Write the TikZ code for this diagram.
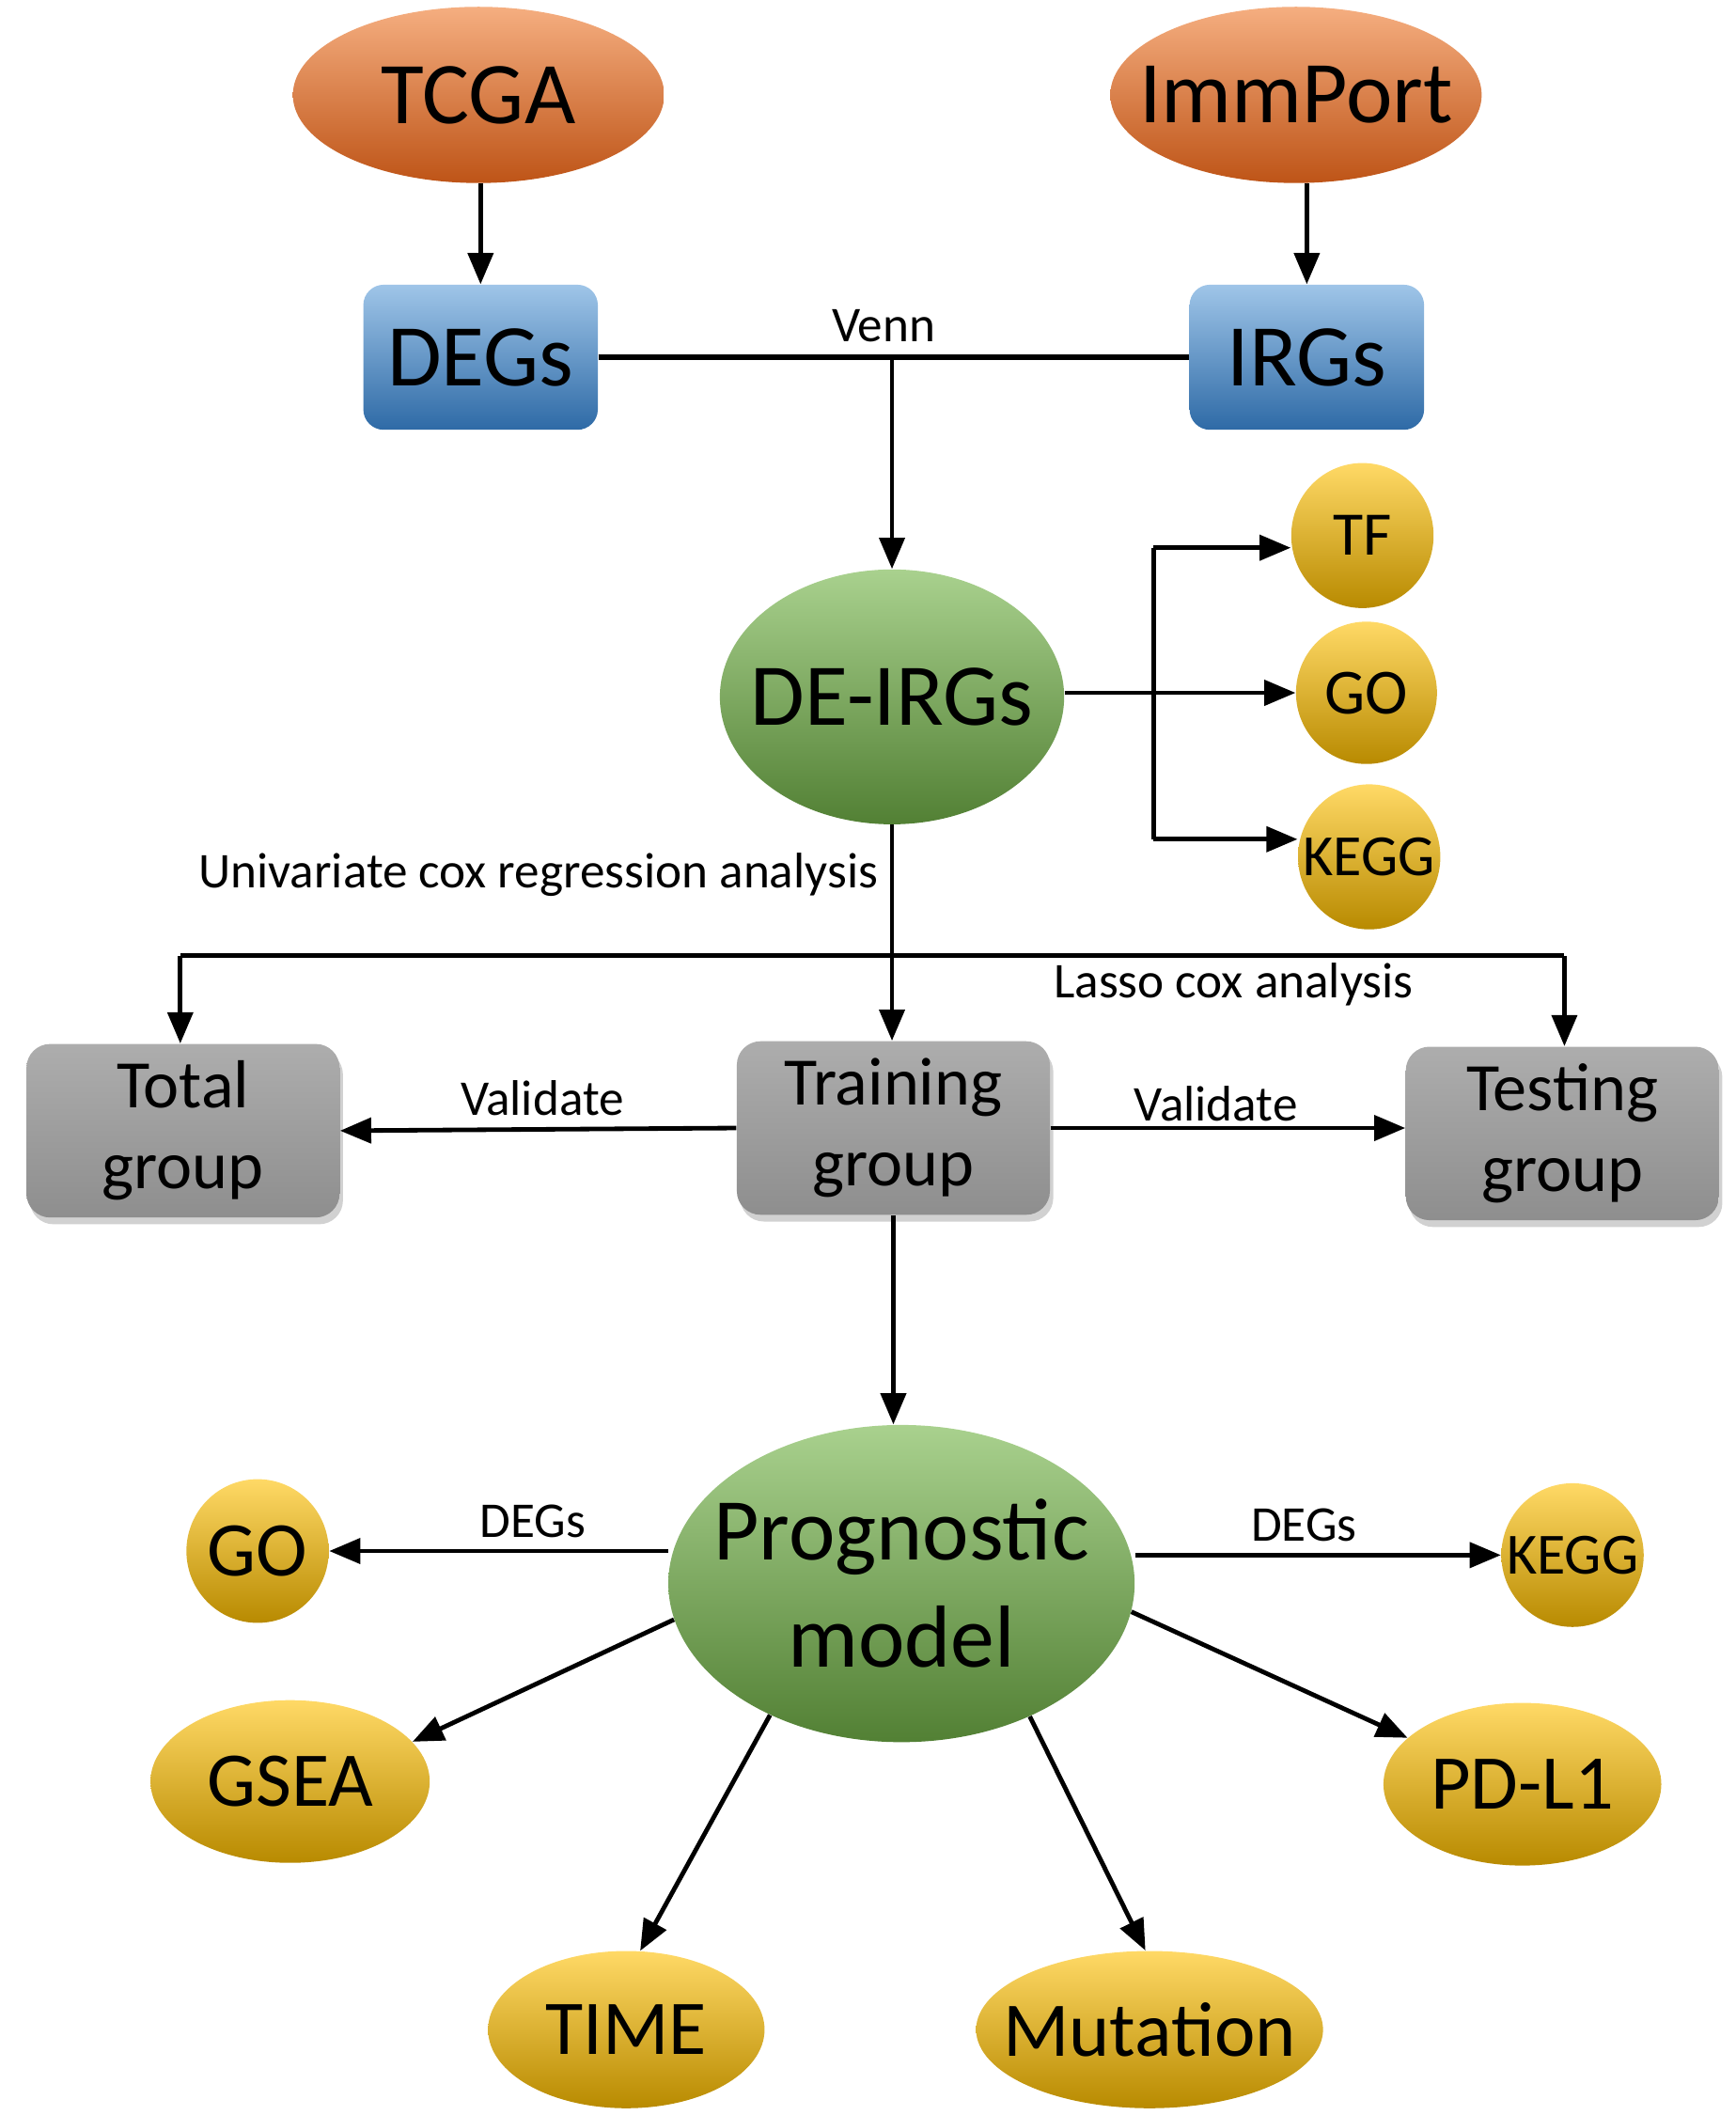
\documentclass[tikz,border=0pt]{standalone}
\usepackage{fontspec}
\setmainfont{Carlito}
\usetikzlibrary{arrows.meta,shapes.geometric,shadows,calc}
\definecolor{orT}{HTML}{F5AE80}
\definecolor{orM}{HTML}{EB7F3A}
\definecolor{orB}{HTML}{BE5417}
\definecolor{blT}{HTML}{9FC5E8}
\definecolor{blM}{HTML}{5B9BD5}
\definecolor{blB}{HTML}{2E6AA6}
\definecolor{grT}{HTML}{A9D18E}
\definecolor{grM}{HTML}{72AE4A}
\definecolor{grB}{HTML}{528034}
\definecolor{yeT}{HTML}{FFD966}
\definecolor{yeM}{HTML}{FFC000}
\definecolor{yeB}{HTML}{B88A00}
\definecolor{gyT}{HTML}{ADADAD}
\definecolor{gyM}{HTML}{A3A3A3}
\definecolor{gyB}{HTML}{8E8E8E}
\tikzset{
  ell/.style={ellipse, inner sep=0pt, draw=none},
  orange/.style={ell, top color=orT, middle color=orM, bottom color=orB},
  green/.style={ell, top color=grT, middle color=grM, bottom color=grB},
  yellow/.style={ell, top color=yeT, middle color=yeM, bottom color=yeB},
  bluebox/.style={rectangle, rounded corners=0.3cm, draw=none, top color=blT, middle color=blM, bottom color=blB, minimum width=3.46cm, minimum height=2.14cm, inner sep=0pt},
  graybox/.style={rectangle, rounded corners=0.35cm, draw=none, top color=gyT, middle color=gyM, bottom color=gyB, minimum width=4.62cm, minimum height=2.56cm, inner sep=0pt, align=center, font=\fontsize{28.5}{34}\selectfont, drop shadow={shadow xshift=0.05cm, shadow yshift=-0.1cm, opacity=0.3, fill=black!60}},
  big/.style={font=\fontsize{37}{45}\selectfont},
  mid/.style={font=\fontsize{32.5}{38}\selectfont},
  sml/.style={font=\fontsize{26}{30}\selectfont},
  lbl/.style={font=\fontsize{21}{25}\selectfont, inner sep=0pt},
  arr/.style={-{Triangle[length=0.46cm,width=0.37cm]}, line width=1.9pt},
  ln/.style={line width=1.9pt},
}
\begin{document}
\begin{tikzpicture}[x=0.02cm,y=-0.02cm]
\useasboundingbox (0,0) rectangle (1280,1560);
% sources
\node[orange, minimum width=5.48cm, minimum height=2.6cm, label={[big]center:TCGA}] (tcga) at (353,70) {};
\node[orange, minimum width=5.48cm, minimum height=2.6cm, label={[big]center:ImmPort}] (imm) at (956,70) {};
\node[bluebox, big] (degs) at (354.5,263.5) {DEGs};
\node[bluebox, big] (irgs) at (964,263.5) {IRGs};
\draw[arr] (degs.north |- tcga.south) -- (degs.north);
\draw[arr] (irgs.north |- imm.south) -- (irgs.north);
\draw[line width=2.4pt] (degs.east) -- (irgs.west);
\node[lbl] (venn) at (652,240) {Venn};
\coordinate (vj) at (658,262);
% DE-IRGs
\node[green, minimum width=5.08cm, minimum height=3.76cm, label={[big]center:DE-IRGs}] (deirg) at (658,514) {};
\draw[arr] (vj) -- (deirg.north);
\node[yellow, minimum width=2.1cm, minimum height=2.14cm, label={[sml]center:TF}] (tf) at (1005,395) {};
\node[yellow, minimum width=2.08cm, minimum height=2.1cm, label={[font=\fontsize{27}{30}\selectfont]center:GO}] (go1) at (1008,511) {};
\node[yellow, minimum width=2.1cm, minimum height=2.14cm, label={[font=\fontsize{24.5}{28}\selectfont]center:KEGG}] (kegg1) at (1010,632) {};
\coordinate (bt) at (851,404);
\coordinate (bb) at (851,619);
\draw[arr] (go1.west -| deirg.east) -- (go1.west);
\draw[ln] (bt) -- (bb);
\draw[arr] (bt) -- (bt -| tf.west);
\draw[arr] (bb) -- (bb -| kegg1.west);
% groups
\node[graybox] (total) at (135,834) {Total\\group};
\node[graybox] (train) at (659,832) {Training\\group};
\node[graybox] (test) at (1152.5,836) {Testing\\group};
\draw[arr] (deirg.south) -- (deirg.south |- train.north);
\coordinate (hl) at (133,705);
\coordinate (hr) at (1154,705);
\draw[ln] (hl) -- (hr);
\draw[arr] (hl) -- (hl |- total.north);
\draw[arr] (hr) -- (hr |- test.north);
\node[lbl, anchor=east] (uni) at (648,645) {Univariate cox regression analysis};
\node[lbl] (lasso) at (910,726) {Lasso cox analysis};
\draw[arr] (train.west) -- (total.east);
\draw[arr] (train.east) -- (train.east -| test.west);
\node[lbl] (val1) at (400,810) {Validate};
\node[lbl] (val2) at (897,814) {Validate};
% prognostic model
\node[green, minimum width=6.88cm, minimum height=4.68cm, label={[align=center, big]center:Prognostic\\model}] (prog) at (665,1168) {};
\draw[arr] (train.south) -- (train.south |- prog.north);
\node[yellow, minimum width=2.1cm, minimum height=2.12cm, label={[mid]center:GO}] (go2) at (190,1144) {};
\node[yellow, minimum width=2.1cm, minimum height=2.12cm, label={[font=\fontsize{24.5}{28}\selectfont]center:KEGG}] (kegg2) at (1160,1147) {};
\node[yellow, minimum width=4.12cm, minimum height=2.4cm, label={[mid]center:GSEA}] (gsea) at (214,1314) {};
\node[yellow, minimum width=4.1cm, minimum height=2.4cm, label={[mid]center:PD-L1}] (pdl) at (1123,1316) {};
\node[yellow, minimum width=4.08cm, minimum height=2.32cm, label={[mid]center:TIME}] (time) at (462,1497) {};
\node[yellow, minimum width=5.12cm, minimum height=2.32cm, label={[mid]center:Mutation}] (mut) at (848,1497) {};
\draw[arr] (go2.east -| prog.west) -- (go2.east);
\draw[arr] (kegg2.west -| prog.east) -- (kegg2.west);
\node[lbl] (dg1) at (393,1122) {DEGs};
\node[lbl] (dg2) at (962,1125) {DEGs};
\draw[arr] (prog.189) -- (gsea.18);
\draw[arr] (prog.353) -- (pdl.158);
\draw[arr] (prog.225) -- (time.80);
\draw[arr] (prog.314) -- (mut.93);
\end{tikzpicture}
\end{document}
